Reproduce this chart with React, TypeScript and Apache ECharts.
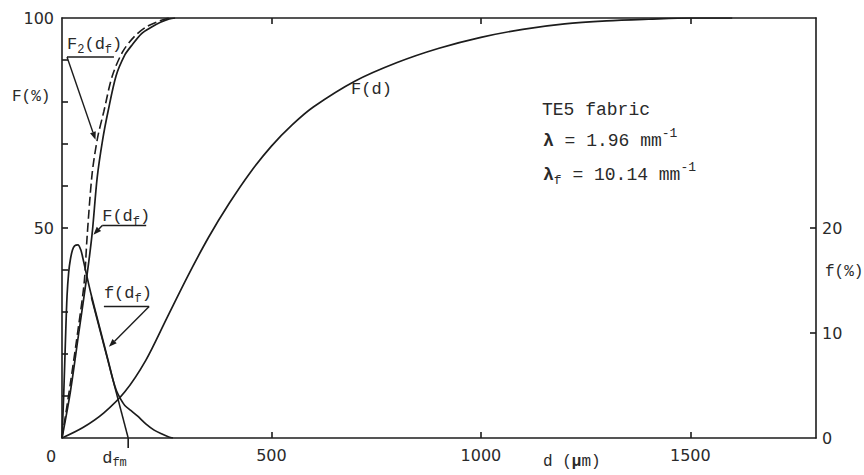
import React, { useEffect, useRef } from "react";
import * as echarts from "echarts";

// ---- data ----
// F(d): cumulative distribution of d, % (left axis)
const dFd = [0, 50, 100, 150, 200, 250, 300, 350, 400, 450, 500, 550, 600, 700, 800, 900, 1000, 1100, 1200, 1300, 1400, 1500, 1600];
const FFd = [0, 2.5, 6, 11, 18.5, 28.5, 38.5, 47.8, 56, 63.3, 69.5, 74.6, 78.8, 85, 89.4, 92.8, 95.4, 97.3, 98.6, 99.3, 99.7, 100, 100];

// F(d_f): solid curve, % (left axis)
const dF1 = [0, 20, 40, 60, 72, 84, 97, 110, 129, 150, 165, 190, 213, 235, 256, 270];
const FF1 = [0, 11, 25, 39, 48.7, 62, 71, 77.8, 86.2, 91.2, 93.3, 96.3, 97.8, 99, 99.8, 100];

// F2(d_f): dashed curve, % (left axis)
const dF2 = [0, 20, 40, 53, 60, 72, 85, 100, 120, 145, 172, 200, 230, 255];
const FF2 = [0, 13, 27, 37, 48, 63, 71.5, 77.8, 86.2, 92, 95.5, 97.8, 99.2, 100];

// f(d_f): frequency, % (right axis)
const dSmall = [0, 4, 8, 12, 16, 20, 25, 30, 38, 45, 50, 60, 70, 90, 110, 122, 130, 140, 150, 165, 180, 200, 220, 240, 255, 265];
const fSmall = [0, 4, 9, 13.5, 15.8, 17, 17.9, 18.3, 18.4, 17.9, 17.1, 15.3, 13.6, 10.5, 7.4, 5.5, 4.5, 3.7, 3.1, 2.6, 2.1, 1.35, 0.75, 0.35, 0.1, 0];

// straight descending line down to d_fm (right axis)
const dLine = [70, 158];
const fLine = [13.4, 0];
const dfm = 158;

// axes
const xTicks = [500, 1000, 1500];
const yLeftTicks = [10, 20, 30, 40, 50, 60, 70, 80, 90];
const yLeftLabels = [50, 100];
const yRightTicks = [10, 20];
const yRightLabels = [0, 10, 20];

const MONO = "'Liberation Mono', 'DejaVu Sans Mono', monospace";
const SANS = "'DejaVu Sans', sans-serif";
const INK = "#1c1c1c";
const TXT = "#2a2a2a";

type Seg = { t: string; k?: "sub" | "sup"; bold?: boolean };

function monoText(segs: Seg[], x: number, y: number, size: number): any[] {
  const out: any[] = [];
  let cx = x;
  for (const s of segs) {
    const fs = s.k ? Math.round(size * 0.72) : size;
    const dy = s.k === "sub" ? size * 0.32 : s.k === "sup" ? -size * 0.4 : 0;
    out.push({
      type: "text",
      x: cx,
      y: y + dy,
      silent: true,
      style: {
        text: s.t,
        fontFamily: MONO,
        fontSize: fs,
        fontWeight: s.bold ? "bold" : "normal",
        fill: TXT,
        align: "left",
        verticalAlign: "middle",
      },
    });
    cx += s.t.length * 0.6 * fs;
  }
  return out;
}

function arrow(p0: number[], p1: number[]): any[] {
  const dx = p1[0] - p0[0];
  const dy = p1[1] - p0[1];
  const len = Math.sqrt(dx * dx + dy * dy) || 1;
  const ux = dx / len;
  const uy = dy / len;
  const L = 8;
  const W = 3;
  const bx = p1[0] - ux * L;
  const by = p1[1] - uy * L;
  return [
    { type: "line", silent: true, shape: { x1: p0[0], y1: p0[1], x2: bx, y2: by }, style: { stroke: INK, lineWidth: 1.4 } },
    {
      type: "polygon",
      silent: true,
      shape: { points: [[p1[0], p1[1]], [bx - uy * W, by + ux * W], [bx + uy * W, by - ux * W]] },
      style: { fill: INK },
    },
  ];
}

const pairs = (xs: number[], ys: number[]) => xs.map((x, i) => [x, ys[i]]);

const lineBase = (w = 1.6) => ({
  type: "line" as const,
  showSymbol: false,
  symbol: "none",
  silent: true,
  lineStyle: { color: INK, width: w },
});

const axisLine = { show: true, onZero: false, lineStyle: { color: INK, width: 1.6 } };
const tickStyle = (vals: number[]) => ({ show: true, inside: true, length: 6, customValues: vals, lineStyle: { color: INK, width: 1.6 } });
const plain = (v: number) => String(v);

export default function App() {
  const ref = useRef<HTMLDivElement>(null);
  useEffect(() => {
    const chart = echarts.init(ref.current!, null, { renderer: "svg" });
    chart.setOption({
      animation: false,
      backgroundColor: "#ffffff",
      grid: { left: 62, right: 48, top: 18, bottom: 37 },
      xAxis: [
        {
          type: "value",
          position: "bottom",
          min: 0,
          max: 1800,
          interval: 500,
          axisLine,
          axisTick: tickStyle(xTicks),
          axisLabel: { customValues: xTicks, formatter: plain, margin: 9, fontSize: 16, fontFamily: SANS, color: TXT },
          splitLine: { show: false },
        },
        {
          type: "value",
          position: "top",
          min: 0,
          max: 1800,
          interval: 500,
          axisLine,
          axisTick: tickStyle(xTicks),
          axisLabel: { show: false },
          splitLine: { show: false },
        },
      ],
      yAxis: [
        {
          type: "value",
          position: "left",
          min: 0,
          max: 100,
          interval: 10,
          axisLine,
          axisTick: tickStyle(yLeftTicks),
          axisLabel: { customValues: yLeftLabels, formatter: plain, margin: 8, fontSize: 16, fontFamily: SANS, color: TXT },
          splitLine: { show: false },
        },
        {
          type: "value",
          position: "right",
          min: 0,
          max: 40,
          interval: 10,
          axisLine,
          axisTick: tickStyle(yRightTicks),
          axisLabel: { customValues: yRightLabels, formatter: plain, margin: 6, fontSize: 16, fontFamily: SANS, color: TXT },
          splitLine: { show: false },
        },
      ],
      series: [
        { ...lineBase(1.7), name: "F(d)", xAxisIndex: 0, yAxisIndex: 0, smooth: 0.3, data: pairs(dFd, FFd) },
        { ...lineBase(1.7), name: "F(df)", xAxisIndex: 0, yAxisIndex: 0, smooth: 0.3, data: pairs(dF1, FF1) },
        {
          ...lineBase(1.6),
          name: "F2(df)",
          xAxisIndex: 0,
          yAxisIndex: 0,
          smooth: 0.3,
          lineStyle: { color: INK, width: 1.6, type: [9, 4] },
          data: pairs(dF2, FF2),
        },
        { ...lineBase(1.7), name: "f(df)", xAxisIndex: 0, yAxisIndex: 1, smooth: 0.3, data: pairs(dSmall, fSmall) },
        { ...lineBase(1.5), name: "tangent", xAxisIndex: 0, yAxisIndex: 1, smooth: false, data: pairs(dLine, fLine) },
      ],
    });

    const P = (d: number, F: number) => chart.convertToPixel({ seriesIndex: 0 }, [d, F]) as number[];
    const g: any[] = [];

    // F2(d_f) annotation
    const a1 = P(12, 93.6);
    g.push(...monoText([{ t: "F" }, { t: "2", k: "sub" }, { t: "(d" }, { t: "f", k: "sub" }, { t: ")" }], a1[0], a1[1], 17));
    const u1a = P(12, 90.7);
    const u1b = P(124, 90.7);
    g.push({ type: "line", silent: true, shape: { x1: u1a[0], y1: u1a[1], x2: u1b[0], y2: u1b[1] }, style: { stroke: INK, lineWidth: 1.6 } });
    g.push(...arrow(u1a, P(80, 71)));

    // F(d_f) annotation
    const a2 = P(96, 52.7);
    g.push(...monoText([{ t: "F(d" }, { t: "f", k: "sub" }, { t: ")" }], a2[0], a2[1], 17));
    const u2a = P(96, 50.6);
    const u2b = P(201, 50.6);
    g.push({ type: "line", silent: true, shape: { x1: u2a[0], y1: u2a[1], x2: u2b[0], y2: u2b[1] }, style: { stroke: INK, lineWidth: 1.6 } });
    g.push(...arrow(u2a, P(75, 48.4)));

    // f(d_f) annotation
    const a3 = P(100, 34.4);
    g.push(...monoText([{ t: "f(d" }, { t: "f", k: "sub" }, { t: ")" }], a3[0], a3[1], 17));
    const u3a = P(100, 31.3);
    const u3b = P(208, 31.3);
    g.push({ type: "line", silent: true, shape: { x1: u3a[0], y1: u3a[1], x2: u3b[0], y2: u3b[1] }, style: { stroke: INK, lineWidth: 1.6 } });
    g.push(...arrow(u3b, P(112, 21.7)));

    // F(d) label
    const a4 = P(690, 83);
    g.push(...monoText([{ t: "F(d)" }], a4[0], a4[1], 17));

    // d_fm tick and label
    const t0 = P(dfm, 0);
    g.push({ type: "line", silent: true, shape: { x1: t0[0], y1: t0[1], x2: t0[0], y2: t0[1] + 10 }, style: { stroke: INK, lineWidth: 1.6 } });
    g.push(...monoText([{ t: "d" }, { t: "fm", k: "sub" }], t0[0] - 26, t0[1] + 20, 17));

    // origin zero
    g.push({
      type: "text",
      silent: true,
      x: 51,
      y: 456,
      style: { text: "0", fontFamily: SANS, fontSize: 16, fill: TXT, align: "center", verticalAlign: "middle" },
    });

    // axis names
    g.push(...monoText([{ t: "F(%)" }], 12, 97, 16));
    g.push(...monoText([{ t: "f(%)" }], 825, 272, 16));
    g.push(...monoText([{ t: "d (" }, { t: "µ", bold: true }, { t: "m)" }], 543, 462, 16));

    // info block
    g.push(...monoText([{ t: "TE5 fabric" }], 542, 110, 18));
    g.push(...monoText([{ t: "λ", bold: true }, { t: " = 1.96 mm" }, { t: "-1", k: "sup" }], 543, 141, 18));
    g.push(...monoText([{ t: "λ", bold: true }, { t: "f", k: "sub" }, { t: " = 10.14 mm" }, { t: "-1", k: "sup" }], 543, 175, 18));

    chart.setOption({ graphic: g });
    return () => chart.dispose();
  }, []);
  return <div ref={ref} style={{ position: "fixed", left: 0, top: 0, width: 864, height: 475 }} />;
}
